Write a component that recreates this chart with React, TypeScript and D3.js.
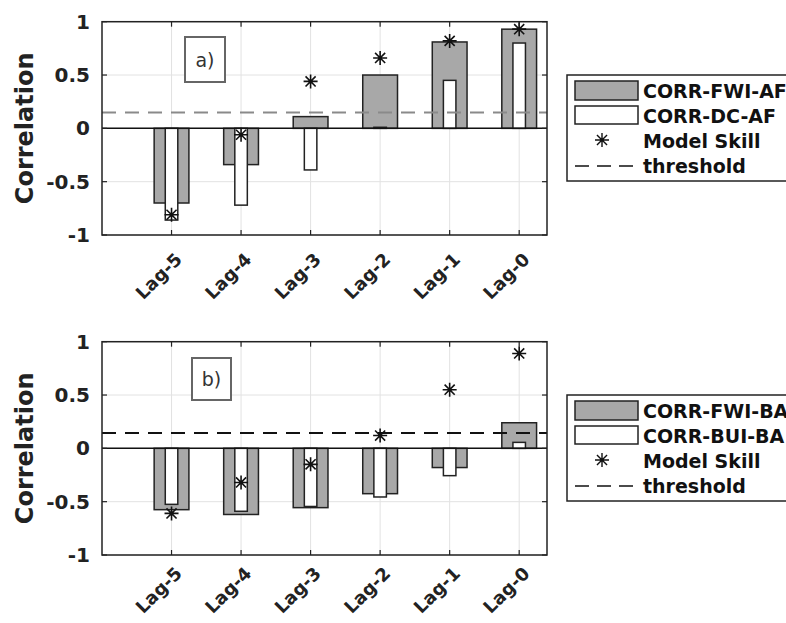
import React from 'react';
import * as d3 from 'd3';

const lags = ['Lag-5', 'Lag-4', 'Lag-3', 'Lag-2', 'Lag-1', 'Lag-0'];
const yTicks = [-1, -0.5, 0, 0.5, 1];

// panel a)
const fwiAf = [-0.70, -0.34, 0.11, 0.50, 0.81, 0.93];
const dcAf = [-0.86, -0.72, -0.39, 0.01, 0.45, 0.80];
const skillA = [-0.81, -0.06, 0.44, 0.66, 0.82, 0.93];
const thresholdA = 0.148;
const legendA = ['CORR-FWI-AF', 'CORR-DC-AF', 'Model Skill', 'threshold'];

// panel b)
const fwiBa = [-0.575, -0.62, -0.556, -0.425, -0.18, 0.24];
const buiBa = [-0.525, -0.59, -0.545, -0.456, -0.256, 0.056];
const skillB = [-0.61, -0.32, -0.15, 0.12, 0.55, 0.89];
const thresholdB = 0.145;
const legendB = ['CORR-FWI-BA', 'CORR-BUI-BA', 'Model Skill', 'threshold'];

const W = 786;
const H = 623;
const left = 102;
const right = 547;
const font = 'DejaVu Sans, sans-serif';
const grayFill = '#a8a8a8';

const x = d3.scaleLinear().domain([0, 6.4]).range([left, right]);
const step = x(1) - x(0);

function starPath(cx, cy, r) {
  const p = d3.path();
  const d = r * 0.72;
  p.moveTo(cx - r, cy); p.lineTo(cx + r, cy);
  p.moveTo(cx, cy - r); p.lineTo(cx, cy + r);
  p.moveTo(cx - d, cy - d); p.lineTo(cx + d, cy + d);
  p.moveTo(cx - d, cy + d); p.lineTo(cx + d, cy - d);
  return p.toString();
}

function Panel({ top, bottom, wide, narrow, skill, threshold, thrColor, label, labelBox, legend, legendTop, lagDy }) {
  const y = d3.scaleLinear().domain([-1, 1]).range([bottom, top]);
  const y0 = y(0);
  return (
    <g>
      {/* grid */}
      {lags.map((l, i) => (
        <line key={'gx' + i} x1={x(i + 1)} x2={x(i + 1)} y1={top} y2={bottom} stroke="#e2e2e2" strokeWidth={1} />
      ))}
      {yTicks.map((t) => (
        <line key={'gy' + t} x1={left} x2={right} y1={y(t)} y2={y(t)} stroke="#e2e2e2" strokeWidth={1} />
      ))}
      {/* bars */}
      {wide.map((v, i) => (
        <rect key={'w' + i} x={x(i + 1) - step * 0.25} width={step * 0.5}
          y={Math.min(y(v), y0)} height={Math.abs(y(v) - y0)}
          fill={grayFill} stroke="#222" strokeWidth={1.5} />
      ))}
      {narrow.map((v, i) => (
        <rect key={'n' + i} x={x(i + 1) - step * 0.09} width={step * 0.18}
          y={Math.min(y(v), y0)} height={Math.max(Math.abs(y(v) - y0), 0.5)}
          fill="#fff" stroke="#222" strokeWidth={1.5} />
      ))}
      <line x1={left} x2={right} y1={y0} y2={y0} stroke="#111" strokeWidth={1.5} />
      <line x1={left} x2={right} y1={y(threshold)} y2={y(threshold)} stroke={thrColor}
        strokeWidth={2} strokeDasharray="14,9" />
      {skill.map((v, i) => (
        <path key={'s' + i} d={starPath(x(i + 1), y(v), 7)} stroke="#111" strokeWidth={1.6} fill="none" />
      ))}
      {/* axes box + ticks */}
      <rect x={left} y={top} width={right - left} height={bottom - top} fill="none" stroke="#222" strokeWidth={1.5} />
      {yTicks.map((t) => (
        <g key={'ty' + t}>
          <line x1={left} x2={left + 5} y1={y(t)} y2={y(t)} stroke="#222" strokeWidth={1.2} />
          <line x1={right - 5} x2={right} y1={y(t)} y2={y(t)} stroke="#222" strokeWidth={1.2} />
          <text x={90} y={y(t)} textAnchor="end" dominantBaseline="central" fontFamily={font}
            fontWeight="bold" fontSize={20} fill="#222">{t}</text>
        </g>
      ))}
      {lags.map((l, i) => (
        <g key={'tx' + i}>
          <line x1={x(i + 1)} x2={x(i + 1)} y1={bottom} y2={bottom - 5} stroke="#222" strokeWidth={1.2} />
          <line x1={x(i + 1)} x2={x(i + 1)} y1={top} y2={top + 5} stroke="#222" strokeWidth={1.2} />
          <text transform={`translate(${x(i + 1) + 7},${bottom + lagDy}) rotate(-45)`} textAnchor="end"
            dominantBaseline="central" fontFamily={font} fontWeight="bold" fontSize={18} fill="#222">{l}</text>
        </g>
      ))}
      <text transform={`translate(25,${y0}) rotate(-90)`} textAnchor="middle" dominantBaseline="central"
        fontFamily={font} fontWeight="bold" fontSize={24} fill="#222">Correlation</text>
      {/* panel label */}
      <rect x={labelBox[0]} y={labelBox[1]} width={labelBox[2]} height={labelBox[3]} fill="#fff"
        stroke="#666" strokeWidth={2} />
      <text x={labelBox[0] + labelBox[2] / 2} y={labelBox[1] + labelBox[3] / 2} textAnchor="middle"
        dominantBaseline="central" fontFamily={font} fontSize={19} fill="#333">{label}</text>
      {/* legend */}
      <g transform={`translate(567,${legendTop})`}>
        <rect x={0} y={0} width={260} height={106} fill="#fff" stroke="#222" strokeWidth={1.5} />
        <rect x={8} y={6} width={63} height={19} fill={grayFill} stroke="#222" strokeWidth={1.5} />
        <rect x={8} y={31} width={63} height={18} fill="#fff" stroke="#222" strokeWidth={1.5} />
        <path d={starPath(35, 65, 7)} stroke="#111" strokeWidth={1.4} fill="none" />
        <line x1={8} x2={71} y1={91} y2={91} stroke="#111" strokeWidth={1.3} strokeDasharray="14,8" />
        {legend.map((t, i) => (
          <text key={t} x={76} y={15.5 + i * 25.3} dominantBaseline="central" fontFamily={font}
            fontWeight="bold" fontSize={19} fill="#111">{t}</text>
        ))}
      </g>
    </g>
  );
}

export default function App() {
  return (
    <svg width={W} height={H} style={{ position: 'absolute', left: 0, top: 0, background: '#fff' }}>
      <Panel top={21.7} bottom={235} wide={fwiAf} narrow={dcAf} skill={skillA} threshold={thresholdA}
        thrColor="#8a8a8a" label="a)" labelBox={[185, 37, 40, 45]} legend={legendA} legendTop={75} lagDy={21} />
      <Panel top={341.7} bottom={555} wide={fwiBa} narrow={buiBa} skill={skillB} threshold={thresholdB}
        thrColor="#111" label="b)" labelBox={[192, 358, 39, 42]} legend={legendB} legendTop={395} lagDy={15} />
    </svg>
  );
}
